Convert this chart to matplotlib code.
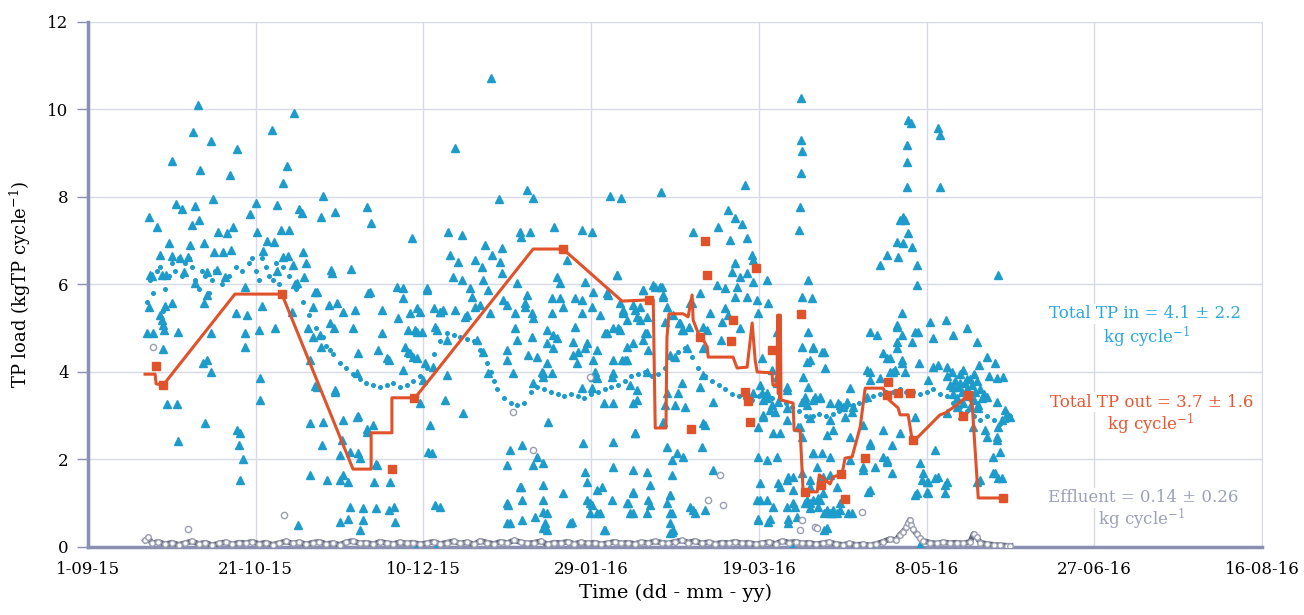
import matplotlib
matplotlib.use('Agg')
import matplotlib.pyplot as plt

# x positions are days after 1 Sep 2015
tick_days = [0, 50, 100, 150, 200, 250, 300, 350]
tick_labels = ['1-09-15', '21-10-15', '10-12-15', '29-01-16', '19-03-16', '8-05-16', '27-06-16', '16-08-16']
y_ticks = [0, 2, 4, 6, 8, 10, 12]

# Total TP in (triangles), (day, kg per cycle)
tp_in_sep_nov = [
    (32.8, 10.10), (61.5, 9.93), (31.4, 9.49), (54.8, 9.53), (36.6, 9.27), (44.5, 9.09), (25.1, 8.83),
    (33.4, 8.62), (59.2, 8.71), (42.3, 8.50), (58.2, 8.31), (37.3, 7.95), (70.1, 8.03), (18.2, 7.55),
    (26.2, 7.84), (28.0, 7.72), (31.9, 7.79), (20.6, 7.32), (33.1, 7.47), (31.0, 7.36), (48.3, 7.60),
    (50.1, 7.86), (56.4, 7.82), (62.9, 7.72), (63.8, 7.63), (69.5, 7.55), (73.6, 7.66), (83.2, 7.77),
    (84.4, 7.40), (38.8, 7.20), (41.4, 7.18), (43.2, 7.31), (50.4, 7.20), (57.5, 7.25), (59.9, 7.25),
    (24.2, 6.95), (30.4, 6.90), (34.6, 6.95), (53.3, 7.00), (55.4, 6.97), (37.6, 6.74), (40.2, 6.74),
    (42.6, 6.79), (52.2, 6.77), (64.2, 6.74), (21.5, 6.67), (25.0, 6.64), (27.4, 6.60), (29.9, 6.62),
    (58.1, 6.62), (59.7, 6.65), (65.0, 6.50), (61.1, 6.45), (72.4, 6.32), (78.3, 6.35), (19.2, 6.19),
    (23.2, 6.22), (28.6, 6.29), (35.6, 6.29), (38.6, 6.34), (40.8, 6.17), (56.3, 6.30), (64.4, 6.17),
    (92.0, 5.94), (61.7, 6.01), (68.4, 5.83), (83.6, 5.80), (35.4, 5.76), (18.6, 6.22), (22.2, 6.22),
    (31.9, 6.03), (46.8, 5.94), (62.3, 6.03), (67.7, 5.83), (72.7, 6.26), (84.1, 5.83), (93.9, 5.69),
    (18.2, 5.49), (23.0, 5.51), (25.0, 5.58), (34.6, 5.57), (44.1, 5.35), (47.5, 5.30), (51.8, 5.51),
    (60.9, 5.38), (67.0, 5.48), (71.7, 5.53), (74.3, 5.57), (79.1, 5.00), (87.5, 5.42), (21.5, 5.30),
    (22.0, 5.19), (22.3, 5.07), (22.6, 4.96), (17.5, 4.89), (19.5, 4.89), (26.9, 4.91), (36.6, 4.89),
    (46.8, 4.89), (51.1, 4.96), (55.8, 5.00), (65.7, 5.00), (69.2, 4.85), (73.2, 5.00), (87.6, 4.89),
    (72.1, 5.12), (76.0, 5.38), (79.6, 5.42), (92.4, 5.23), (67.1, 4.80), (80.5, 4.43), (89.1, 4.32),
    (22.4, 4.52), (34.4, 4.20), (35.4, 4.27), (36.6, 4.00), (46.8, 4.58), (66.2, 4.27), (69.6, 4.58),
    (86.6, 4.50), (89.6, 4.27), (80.3, 3.97), (73.7, 3.59), (67.7, 3.68), (51.3, 3.86), (51.3, 3.36),
    (23.5, 3.27), (26.5, 3.27), (34.9, 2.83), (26.9, 2.43), (44.5, 2.67), (45.4, 2.60), (45.0, 2.33),
    (46.1, 2.00), (45.4, 1.53), (66.2, 2.83), (70.0, 2.86), (69.7, 2.33), (76.1, 2.90), (80.4, 3.00),
    (83.1, 2.70), (85.0, 2.79), (75.2, 2.10), (80.5, 2.14), (81.1, 2.03), (76.1, 1.65), (66.2, 1.65),
    (71.2, 1.53), (75.1, 1.53), (77.6, 1.49), (85.3, 1.49), (90.0, 1.49), (85.9, 1.90), (62.7, 0.50),
    (78.1, 0.91), (75.1, 0.57), (77.6, 0.65), (82.1, 0.88), (82.1, 0.61), (81.1, 0.38), (85.9, 0.88),
    (89.6, 0.84), (91.1, 0.92), (91.5, 0.57), (75.8, 2.45), (78.1, 2.17), (86.2, 1.87), (73.6, 3.54),
    (68.3, 3.66), (80.2, 2.97), (83.2, 2.63),
]

tp_in_dec_jan = [
    (120.0, 10.72), (109.4, 9.12), (122.5, 7.95), (130.9, 8.16), (132.7, 7.98), (139.0, 7.31),
    (147.3, 7.25), (111.5, 7.13), (129.0, 7.09), (96.6, 7.06), (107.3, 7.20), (128.8, 7.20),
    (131.8, 7.20), (101.1, 5.92), (99.0, 3.29), (99.9, 3.82), (101.4, 2.17), (96.0, 5.35), (98.1, 5.46),
    (98.1, 4.92), (95.4, 4.46), (98.1, 4.32),
    (99.0, 5.37), (103.0, 5.46), (105.0, 5.37), (109.4, 5.42), (112.9, 5.30), (115.4, 5.49),
    (119.9, 5.35), (123.7, 5.65), (127.3, 5.35), (130.3, 5.57), (132.4, 5.35), (138.3, 5.35),
    (141.6, 5.49), (147.3, 5.35), (95.5, 4.96), (99.5, 4.92), (104.0, 4.96), (107.0, 4.73), (96.0, 4.43),
    (107.0, 3.93), (106.4, 3.36), (111.9, 3.06), (102.0, 2.79), (102.5, 2.14), (103.5, 0.96),
    (105.0, 0.91), (116.0, 4.73), (117.9, 4.46), (119.3, 3.97), (124.9, 4.50), (127.8, 4.73),
    (131.2, 4.39), (133.8, 4.35), (135.3, 4.00), (136.8, 4.21), (139.8, 4.78), (144.6, 4.69),
    (146.1, 4.46), (148.7, 4.66), (135.7, 3.89), (132.7, 3.75), (137.2, 2.86), (147.3, 3.63),
    (129.3, 2.33), (125.8, 2.22), (124.9, 1.87), (133.8, 2.06), (135.7, 1.92), (132.7, 1.87),
    (148.2, 1.71), (148.7, 1.49), (147.6, 2.38), (128.8, 1.37), (129.3, 1.07), (124.9, 1.00),
    (124.9, 0.55), (129.3, 0.62), (133.3, 0.69), (135.7, 1.07), (135.7, 0.81), (135.7, 0.43),
    (136.8, 0.39), (143.7, 0.55), (148.7, 1.07), (149.7, 0.77), (125.2, 0.96), (129.1, 1.37),
    (135.7, 1.42), (125.9, 0.55), (136.3, 0.55), (141.6, 1.23), (144.3, 0.57),
    (101.1, 5.87), (107.9, 6.67), (110.3, 6.51), (108.8, 6.17), (111.5, 6.10), (113.9, 5.92),
    (115.4, 6.56), (117.5, 6.40), (118.4, 6.90), (120.5, 6.67), (122.8, 6.51), (123.4, 6.83),
    (123.4, 6.26), (117.8, 6.10), (114.5, 5.71), (116.9, 5.53), (119.3, 5.87), (112.3, 5.26),
    (104.9, 5.37), (103.5, 5.03), (124.9, 5.53), (127.9, 6.03), (130.9, 5.76), (130.3, 5.49),
    (132.7, 5.23), (127.3, 5.00), (132.4, 4.80), (136.8, 4.96), (139.8, 6.17), (140.7, 6.03),
    (142.8, 6.56), (148.2, 6.06), (138.3, 5.69), (140.7, 5.69), (145.2, 5.69), (147.3, 5.65),
    (145.2, 5.03), (148.2, 4.55), (144.6, 4.39), (138.6, 4.85), (138.6, 4.55), (136.8, 4.66),
    (135.7, 3.97), (138.3, 3.97), (145.7, 4.20), (124.9, 4.27), (126.7, 3.97), (97.5, 4.96),
    (94.5, 4.57), (96.9, 4.35), (93.9, 4.05), (100.5, 4.20), (102.8, 4.11), (105.8, 5.42), (93.9, 5.92),
    (136.9, 0.78), (98.0, 0.05), (104.0, 0.03),
]

tp_in_feb_mar = [
    (150.2, 5.49), (152.7, 5.30), (158.6, 5.57), (159.5, 5.35), (162.5, 5.53), (166.7, 5.26),
    (151.7, 4.50), (154.2, 4.89), (156.6, 5.00), (158.1, 5.00), (159.2, 4.27), (160.7, 4.57),
    (162.5, 4.66), (165.5, 4.73), (167.0, 4.50), (156.2, 3.89), (156.6, 3.29), (150.2, 3.63),
    (151.7, 3.86), (153.7, 3.29), (162.5, 3.29), (163.2, 2.60), (156.6, 2.40), (151.7, 1.30),
    (153.2, 1.37), (156.6, 1.83), (162.5, 1.76), (166.7, 1.71), (150.2, 0.96), (152.7, 0.77),
    (153.7, 0.39), (156.2, 1.07), (160.7, 1.00), (161.6, 0.77), (162.5, 1.23), (167.0, 1.07),
    (166.7, 0.77), (150.2, 7.20), (150.5, 5.83), (154.7, 5.81), (157.7, 6.22), (159.5, 5.37),
    (158.6, 4.96), (154.7, 4.89), (163.1, 5.42), (164.6, 5.19), (166.7, 4.89), (150.5, 4.27),
    (156.5, 4.27), (160.7, 4.27), (150.5, 3.89), (151.1, 4.00), (156.5, 3.97), (163.7, 3.36),
    (155.6, 8.02), (158.9, 7.98), (170.8, 8.12), (149.7, 1.00), (151.8, 0.78), (154.1, 0.39),
    (161.0, 1.00), (162.5, 0.78), (167.6, 0.96), (167.6, 1.42), (173.5, 1.19), (174.1, 0.78),
    (174.1, 0.34), (181.0, 0.78), (162.5, 1.26),
    (180.4, 7.20), (187.9, 7.31), (190.9, 7.70), (192.9, 7.52), (194.9, 7.38), (195.9, 8.27),
    (191.4, 7.02), (196.4, 7.06), (197.9, 6.67), (198.3, 6.56), (192.9, 6.49), (194.4, 6.17),
    (191.9, 6.29), (187.5, 5.99), (190.0, 5.92), (193.5, 5.94), (198.3, 6.06), (202.4, 6.10),
    (196.4, 5.71), (199.4, 5.65), (182.5, 5.81), (157.6, 6.22), (155.1, 5.76), (165.6, 5.87),
    (169.1, 5.94), (171.0, 5.94), (171.5, 5.76), (172.5, 5.49), (196.4, 6.26),
    (172.0, 5.14), (174.5, 5.30), (176.5, 5.12), (177.5, 4.96), (179.5, 5.57), (185.5, 5.35),
    (190.9, 5.30), (194.4, 5.00), (199.8, 5.35), (202.8, 5.57), (205.4, 4.92),
    (172.6, 2.29), (174.1, 1.99), (175.6, 2.14), (177.4, 2.06), (174.1, 1.65), (173.5, 1.19),
    (172.6, 1.00), (173.5, 0.77), (173.5, 0.55), (173.5, 0.32), (179.4, 0.92), (174.4, 0.39),
    (180.4, 0.84), (184.0, 0.84), (183.1, 2.29), (184.0, 2.79), (186.3, 1.76),
    (168.3, 5.99), (170.4, 5.94), (165.5, 5.87), (171.5, 5.72), (164.6, 5.49), (159.5, 5.42),
    (160.7, 5.19), (163.7, 5.26), (166.1, 4.89), (177.2, 4.96), (179.3, 5.03), (176.3, 5.12),
    (180.1, 5.57), (183.4, 5.03), (184.6, 4.96), (188.6, 4.73), (189.8, 5.46), (192.9, 5.71),
    (188.9, 5.14), (183.4, 4.55), (178.6, 4.55), (173.5, 4.39), (175.0, 4.35), (160.1, 4.27),
    (166.7, 4.00), (161.6, 3.70), (163.7, 3.59), (177.2, 3.75), (183.4, 3.93), (182.5, 3.66),
    (172.6, 3.52), (175.9, 3.52), (186.3, 3.31), (178.0, 3.20), (172.0, 3.25), (175.0, 3.25),
    (183.4, 2.83), (171.5, 2.86), (163.1, 2.60),
    (212.6, 10.26), (212.6, 9.30), (212.8, 9.05), (212.5, 8.55), (212.3, 7.78), (212.0, 7.25),
]

tp_in_apr_jun = [
    (214.7, 6.10), (212.8, 5.71), (215.8, 5.69), (214.7, 4.92), (216.2, 4.55), (218.8, 4.46),
    (219.3, 4.46), (215.3, 4.27), (219.8, 4.09), (216.2, 4.57), (201.0, 4.32), (204.0, 4.05),
    (205.4, 3.75), (208.4, 3.66), (200.4, 3.70), (201.0, 3.52), (202.4, 3.41), (205.7, 3.31),
    (204.0, 3.25), (208.4, 3.18), (201.3, 3.02), (204.9, 3.09), (208.4, 2.90), (212.9, 3.31),
    (214.4, 3.25), (215.3, 2.95), (211.7, 2.74), (212.9, 2.51), (212.9, 4.57), (214.4, 4.23),
    (213.2, 3.89), (214.7, 3.66),
    (199.8, 2.06), (202.4, 1.99), (205.4, 2.06), (199.5, 1.07), (202.4, 1.07), (199.8, 0.65),
    (203.3, 0.65), (208.7, 0.65), (205.8, 1.46), (208.7, 1.60), (210.2, 1.30), (212.9, 1.69),
    (216.2, 2.14), (218.8, 2.14), (215.3, 1.37), (213.8, 1.00), (216.2, 1.07), (217.7, 0.92),
    (219.3, 0.77), (221.2, 0.77), (219.3, 0.39), (208.4, 0.92),
    (199.8, 2.74), (201.3, 2.97), (203.3, 3.13), (204.3, 2.60), (206.3, 2.60), (212.3, 2.74),
    (213.8, 3.43), (216.8, 3.43), (218.3, 3.43), (221.2, 3.29), (223.6, 3.29), (225.2, 3.20),
    (202.4, 3.52), (198.3, 3.52), (201.3, 3.36), (205.4, 3.89), (208.3, 3.59),
    (200.4, 1.46), (200.4, 1.07), (199.8, 0.62), (202.7, 0.57), (204.2, 0.91), (206.3, 1.37),
    (208.7, 0.55), (210.2, 1.00), (211.4, 0.69), (215.3, 0.89), (214.4, 1.07), (218.2, 1.07),
    (219.1, 1.23), (220.3, 0.85), (221.8, 0.78), (223.3, 0.78), (224.2, 0.85), (226.6, 0.78),
    (220.3, 0.43), (223.3, 1.37), (232.6, 1.26), (246.6, 1.19), (250.4, 1.23), (255.5, 1.23),
    (255.5, 1.42),
    (213.8, 3.36), (216.2, 3.36), (218.2, 3.41), (224.2, 3.25), (226.3, 3.31), (227.8, 3.09),
    (225.7, 2.97), (221.2, 2.90), (222.1, 2.67), (220.3, 2.56), (232.3, 3.43), (233.2, 4.00),
    (236.1, 3.86), (240.6, 4.05), (242.7, 4.21), (243.6, 4.00), (239.1, 4.32), (241.2, 4.55),
    (237.0, 2.06), (238.2, 1.94), (233.2, 2.33), (231.1, 1.76), (233.2, 1.30), (227.8, 0.78),
    (216.2, 2.15), (221.2, 2.06), (217.4, 1.83), (219.1, 1.60), (221.2, 1.65), (215.3, 1.53),
    (210.2, 1.60), (208.4, 1.53), (210.8, 0.91), (215.3, 1.00), (217.6, 1.12), (222.1, 0.85),
    (224.2, 1.00), (247.2, 1.23), (249.0, 1.69), (250.1, 1.49), (253.4, 1.60), (256.1, 1.49),
    (266.0, 1.53), (269.8, 1.69), (271.3, 1.58), (269.8, 2.06), (271.0, 2.51), (272.5, 2.90),
    (267.4, 2.67), (263.9, 2.74), (265.4, 3.18), (268.0, 3.43), (271.0, 3.31), (274.9, 2.97),
    (244.2, 8.80), (244.3, 8.23), (254.0, 8.23), (243.0, 7.55), (242.1, 7.47), (243.6, 7.47),
    (241.2, 6.97), (243.1, 6.95), (245.6, 6.86), (238.2, 6.67), (241.5, 6.63), (236.2, 6.45),
    (247.1, 6.45), (247.1, 5.99), (244.5, 7.18), (242.6, 5.35), (241.2, 5.07), (242.6, 4.85),
    (251.0, 5.14), (247.5, 4.92), (258.0, 4.85), (262.0, 5.00), (265.0, 4.69), (252.0, 4.78),
    (245.6, 4.69), (233.2, 4.92), (235.2, 4.85), (238.2, 4.32), (242.6, 4.27), (239.0, 4.00),
    (247.6, 4.21), (252.0, 4.11), (256.0, 4.11), (268.0, 4.34), (271.4, 6.22), (232.1, 4.05),
    (250.5, 3.82), (244.5, 9.76), (245.4, 9.70), (244.2, 9.18), (253.4, 9.58), (254.0, 9.42),
    (255.7, 5.19), (241.2, 5.03), (246.6, 4.92), (241.2, 4.69), (237.0, 4.43), (240.1, 4.00),
    (253.4, 4.16), (271.0, 3.86), (272.8, 3.89), (233.2, 3.82), (227.2, 3.63), (228.1, 3.20),
    (231.1, 2.79), (233.2, 2.38), (237.0, 2.67), (239.7, 2.33), (231.1, 1.83), (234.7, 1.83),
    (238.2, 1.99), (239.7, 1.69), (248.0, 1.92), (248.6, 1.53), (250.5, 1.49), (252.4, 1.58),
    (250.2, 1.26), (252.4, 2.22), (242.1, 2.60), (246.6, 2.97), (265.1, 1.49), (270.4, 1.69),
    (272.5, 1.58), (271.9, 2.17), (268.0, 2.52), (271.0, 2.45), (271.3, 2.74), (273.4, 3.13),
    (265.4, 3.25), (256.1, 3.06), (260.6, 3.02), (227.2, 2.52), (227.2, 1.99),
    (256.0, 3.90), (257.0, 3.70), (258.0, 3.50), (258.5, 3.80), (259.0, 3.40), (259.5, 3.65),
    (260.0, 3.95), (260.5, 3.55), (261.0, 3.30), (261.5, 3.75), (262.0, 3.60), (262.5, 3.45),
    (263.0, 3.85), (263.5, 3.70), (264.0, 3.35), (264.5, 3.55), (265.0, 3.80), (266.0, 3.60),
    (266.5, 3.40), (257.5, 4.00), (259.0, 3.20), (261.0, 4.05), (263.0, 3.20), (267.0, 3.50),
    (260.0, 3.75), (262.0, 3.85), (258.0, 3.65), (264.0, 3.95), (265.5, 4.15), (268.5, 3.90),
    (274.0, 3.05), (270.5, 4.20), (210.0, 0.03), (234.0, 0.03), (248.0, 0.04),
]

# Total TP in, running trend (small dots)
tp_in_trend = [
    (17.5, 5.6), (18.5, 6.1), (19.5, 5.8), (20.5, 6.3), (21.5, 6.4), (22.5, 5.4), (23.0, 5.9),
    (24.0, 6.2), (25.0, 6.5), (26.0, 6.3), (27.0, 6.6), (28.0, 6.2), (29.0, 6.5), (30.0, 6.6),
    (31.0, 6.4), (32.0, 6.1), (33.0, 5.9), (34.0, 6.3), (35.0, 6.2), (36.0, 5.8), (37.0, 6.1),
    (38.0, 6.3), (40.0, 6.0), (42.0, 6.2), (44.0, 6.4), (46.0, 6.3), (48.0, 6.5), (49.0, 6.6),
    (50.0, 6.3), (51.0, 6.1), (52.0, 6.6), (53.0, 6.4), (54.0, 6.2), (55.0, 6.1), (56.0, 6.5),
    (57.0, 6.0), (58.0, 6.4), (60.0, 6.2), (62.0, 5.9), (64.0, 5.6), (66.0, 5.3), (68.0, 5.0),
    (70.0, 4.8), (71.0, 4.6), (72.0, 4.5), (73.0, 4.4), (75.0, 4.2), (77.0, 4.1), (79.0, 3.95),
    (81.0, 3.85), (83.0, 3.75), (85.0, 3.7), (87.0, 3.65), (89.0, 3.7), (91.0, 3.75), (93.0, 3.65),
    (95.0, 3.7), (97.0, 3.8), (99.0, 3.9), (101.0, 4.1), (103.0, 4.4), (105.0, 4.7), (107.0, 4.9),
    (109.0, 4.85), (111.0, 4.8), (113.0, 4.75), (115.0, 4.7), (117.0, 4.5), (119.0, 4.2),
    (120.0, 4.0), (121.0, 3.8), (122.0, 3.6), (124.0, 3.4), (126.0, 3.3), (128.0, 3.25),
    (130.0, 3.3), (132.0, 3.55), (134.0, 3.65), (136.0, 3.6), (138.0, 3.55), (140.0, 3.5),
    (142.0, 3.45), (144.0, 3.5), (146.0, 3.45), (148.0, 3.4), (150.0, 3.5), (152.0, 3.55),
    (154.0, 3.6), (156.0, 3.65), (158.0, 3.7), (160.0, 3.8), (162.0, 3.9), (164.0, 3.95),
    (166.0, 4.0), (168.0, 3.9), (170.0, 3.95), (172.0, 4.1), (174.0, 4.3), (176.0, 4.45),
    (178.0, 4.55), (180.0, 4.35), (182.0, 4.1), (184.0, 3.9), (186.0, 3.8), (188.0, 3.7),
    (190.0, 3.6), (192.0, 3.5), (194.0, 3.45), (196.0, 3.4), (198.0, 3.35), (200.0, 3.45),
    (202.0, 3.5), (204.0, 3.4), (206.0, 3.35), (208.0, 3.3), (210.0, 3.2), (212.0, 3.1),
    (214.0, 3.0), (216.0, 3.0), (218.0, 3.05), (220.0, 3.0), (222.0, 3.05), (224.0, 3.1),
    (226.0, 3.2), (228.0, 3.25), (230.0, 3.3), (232.0, 3.35), (234.0, 3.45), (236.0, 3.5),
    (238.0, 3.55), (240.0, 3.55), (242.0, 3.6), (244.0, 3.55), (246.0, 3.55), (248.0, 3.5),
    (250.0, 3.55), (252.0, 3.6), (254.0, 3.5), (256.0, 3.45), (258.0, 3.3), (260.0, 3.2),
    (262.0, 3.1), (264.0, 3.0), (266.0, 2.9), (268.0, 3.0), (270.0, 2.9), (272.0, 2.8),
    (274.0, 2.9), (275.0, 3.0),
]

# Total TP out, line and measured points
tp_out_line = [
    (17.0, 3.95), (20.0, 3.95), (20.3, 3.73), (22.4, 3.70), (43.8, 5.78), (57.8, 5.78), (79.0, 1.78),
    (84.4, 1.78), (84.4, 2.61), (90.6, 2.61), (90.6, 3.41), (97.5, 3.41), (132.7, 6.81), (141.6, 6.81),
    (159.2, 5.62), (167.9, 5.65), (168.5, 5.65), (169.1, 2.72), (172.3, 2.72), (172.6, 4.80),
    (173.2, 5.33), (177.4, 5.33), (178.9, 5.26), (180.1, 5.76), (180.4, 5.19), (181.9, 4.89),
    (183.1, 4.78), (184.6, 4.57), (184.9, 4.34), (192.3, 4.34), (193.5, 4.09), (196.5, 4.11),
    (198.0, 5.12), (198.9, 4.27), (199.5, 4.00), (203.9, 3.98), (204.2, 3.70), (205.4, 3.70),
    (205.6, 5.30), (205.8, 3.50), (206.0, 5.30), (206.2, 3.40), (206.4, 5.30), (206.6, 3.36),
    (210.2, 3.29), (210.5, 2.67), (212.3, 2.67),
    (213.2, 1.26), (217.4, 1.26), (218.0, 1.65), (221.2, 1.44), (222.1, 1.60), (224.8, 1.67),
    (225.7, 2.03), (227.8, 2.06), (230.2, 2.74), (231.7, 3.63), (237.0, 3.63), (238.2, 3.47),
    (238.8, 3.36), (241.5, 3.18), (242.1, 3.02), (244.5, 3.02), (245.7, 2.45), (246.6, 2.45),
    (254.0, 3.02), (255.5, 3.06), (259.1, 3.25), (262.4, 3.47), (263.6, 3.25), (265.4, 1.12),
    (272.8, 1.12),
]

tp_out_points = [
    (20.3, 4.14), (22.4, 3.70), (57.8, 5.78), (90.6, 1.78), (97.2, 3.41), (141.6, 6.81), (167.3, 5.65),
    (184.0, 6.99), (184.6, 6.22), (179.8, 2.70), (182.5, 4.80), (192.3, 5.19), (191.7, 4.71),
    (195.9, 3.54), (196.8, 3.34), (197.4, 2.86), (199.2, 6.38), (203.9, 4.50), (212.6, 5.33),
    (213.8, 1.26), (218.5, 1.42), (224.5, 1.67), (225.7, 1.10), (231.7, 2.03), (238.5, 3.77),
    (238.2, 3.47), (241.5, 3.52), (245.1, 3.52), (246.0, 2.45), (262.4, 3.47), (260.9, 2.99),
    (272.8, 1.12),
]

# Effluent (circles along the bottom) and the few high readings
effluent = [
    (17, 0.15), (18, 0.22), (19, 0.08), (21, 0.12), (23, 0.06), (25, 0.10), (27, 0.05), (29, 0.09),
    (31, 0.13), (33, 0.07), (35, 0.10), (37, 0.04), (39, 0.08), (41, 0.11), (43, 0.06), (45, 0.10),
    (47, 0.09), (49, 0.12), (51, 0.07), (53, 0.10), (55, 0.05), (57, 0.09), (59, 0.13), (61, 0.08),
    (63, 0.11), (65, 0.06), (67, 0.10), (69, 0.12), (71, 0.07), (73, 0.09), (75, 0.05), (77, 0.11),
    (79, 0.14), (81, 0.08), (83, 0.10), (85, 0.06), (87, 0.12), (89, 0.09), (91, 0.07), (93, 0.11),
    (95, 0.08), (97, 0.10), (99, 0.06), (101, 0.09), (103, 0.12), (105, 0.07), (107, 0.10),
    (109, 0.13), (111, 0.08), (113, 0.11), (115, 0.06), (117, 0.14), (119, 0.10), (121, 0.07),
    (123, 0.12), (125, 0.09), (127, 0.15), (129, 0.11), (131, 0.08), (133, 0.10), (135, 0.13),
    (137, 0.06), (139, 0.10), (141, 0.09), (143, 0.12), (145, 0.07), (147, 0.11), (149, 0.08),
    (151, 0.10), (153, 0.06), (155, 0.09), (157, 0.12), (159, 0.08), (161, 0.10), (163, 0.07),
    (165, 0.11), (167, 0.09), (169, 0.13), (171, 0.10), (173, 0.08), (175, 0.12), (177, 0.15),
    (179, 0.10), (181, 0.14), (183, 0.08), (185, 0.11), (187, 0.07), (189, 0.10), (191, 0.09),
    (193, 0.12), (195, 0.08), (197, 0.10), (199, 0.06), (201, 0.09), (203, 0.11), (205, 0.07),
    (207, 0.14), (209, 0.10), (211, 0.12), (213, 0.08), (215, 0.10), (217, 0.06), (219, 0.09),
    (221, 0.11), (223, 0.07), (225, 0.05), (227, 0.08), (229, 0.05), (231, 0.06), (233, 0.04),
    (235, 0.07), (237, 0.12), (239, 0.18), (241, 0.16), (242, 0.28), (243, 0.35), (244, 0.45),
    (244.5, 0.55), (245, 0.62), (245.5, 0.50), (246, 0.40), (247, 0.30), (248, 0.20), (249, 0.14),
    (251, 0.10), (253, 0.08), (255, 0.11), (257, 0.09), (259, 0.10), (261, 0.08), (263, 0.12),
    (264, 0.30), (265, 0.22), (266, 0.10), (268, 0.07), (270, 0.05), (272, 0.04), (274, 0.03),
    (275, 0.03),
]

effluent_high = [
    (19.4, 4.57), (29.8, 0.41), (58.4, 0.73), (149.8, 3.89), (126.7, 3.09), (132.7, 2.22),
    (188.4, 1.65), (184.9, 1.07), (189.3, 0.96), (230.8, 0.80), (212.9, 0.62), (216.8, 0.46),
    (212.3, 0.39), (217.4, 0.43),
]

blue = '#1d9ccc'
orange = '#e0522a'
grey = '#62667a'
axis_col = '#8990b2'
grid_col = '#d7dbe7'
font = 'DejaVu Serif'

plt.rcParams['mathtext.default'] = 'regular'

fig = plt.figure(figsize=(13.04, 6.15), dpi=100)
ax = fig.add_axes([0.0675, 0.1106, 0.9003, 0.8537])

def unzip(pairs):
    return [p[0] for p in pairs], [p[1] for p in pairs]

tx, ty = unzip(tp_in_trend)
ax.plot(tx, ty, linestyle='none', marker='o', ms=2.6, color=blue, zorder=3)

for group in [tp_in_sep_nov, tp_in_dec_jan, tp_in_feb_mar, tp_in_apr_jun]:
    gx, gy = unzip(group)
    ax.plot(gx, gy, linestyle='none', marker='^', ms=5.8, color=blue, mec=blue, zorder=4)

ex, ey = unzip(effluent)
ax.plot(ex, ey, color=grey, lw=4, marker='o', ms=4, mfc='white', mec='#9a9eb0', mew=1, zorder=5)
hx, hy = unzip(effluent_high)
ax.plot(hx, hy, linestyle='none', marker='o', ms=4.5, mfc='white', mec='#9a9eb0', mew=1, zorder=5)

ox, oy = unzip(tp_out_line)
ax.plot(ox, oy, color=orange, lw=2.2, zorder=6)
px, py = unzip(tp_out_points)
ax.plot(px, py, linestyle='none', marker='s', ms=5.5, color=orange, zorder=7)

ax.set_xlim(0, 350)
ax.set_ylim(0, 12)
ax.set_xticks(tick_days)
ax.set_xticklabels(tick_labels, fontfamily=font, fontsize=12)
ax.set_yticks(y_ticks)
ax.set_yticklabels([str(v) for v in y_ticks], fontfamily=font, fontsize=12)
ax.tick_params(axis='x', length=0, pad=10)
ax.tick_params(axis='y', length=8, width=1, color=axis_col, pad=6)
ax.grid(True, color=grid_col, lw=1, zorder=0)
ax.set_axisbelow(True)

ax.spines['top'].set_visible(False)
ax.spines['right'].set_color(grid_col)
ax.spines['left'].set_color(axis_col)
ax.spines['left'].set_linewidth(2.5)
ax.spines['bottom'].set_color(axis_col)
ax.spines['bottom'].set_linewidth(2.5)

ax.set_xlabel('Time (dd - mm - yy)', fontfamily=font, fontsize=14, labelpad=4)
ax.set_ylabel('TP load (kgTP cycle$^{-1}$)', fontfamily=font, fontsize=13, labelpad=10)

notes = [
    (315.2, 5.33, 'Total TP in = 4.1 \u00b1 2.2', '#2aa8dc'),
    (315.6, 4.78, 'kg cycle$^{-1}$', '#2aa8dc'),
    (317.2, 3.31, 'Total TP out = 3.7 \u00b1 1.6', '#e8552e'),
    (316.6, 2.81, 'kg cycle$^{-1}$', '#e8552e'),
    (314.6, 1.12, 'Effluent = 0.14 \u00b1 0.26', '#9ca1bb'),
    (314.0, 0.62, 'kg cycle$^{-1}$', '#9ca1bb'),
]
for nx, ny, txt, col in notes:
    ax.text(nx, ny, txt, color=col, fontfamily=font, fontsize=12, ha='center', va='center',
            bbox=dict(facecolor='white', edgecolor='none', pad=1), zorder=8)

fig.savefig('out.png', dpi=100)
